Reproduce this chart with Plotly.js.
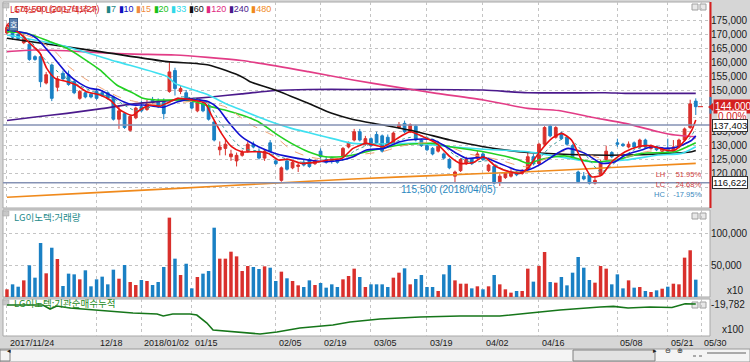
<!DOCTYPE html>
<html><head><meta charset="utf-8">
<script src="https://cdn.plot.ly/plotly-3.0.1.min.js"></script>
<style>html,body{margin:0;padding:0;background:#d6d6d6;}#chart{width:750px;height:362px;}</style>
</head><body><div id="chart"></div>
<script>
// ---------- DATA ----------
const dates = ["2017-11-24","2017-11-27","2017-11-28","2017-11-29","2017-11-30","2017-12-01","2017-12-04","2017-12-05","2017-12-06","2017-12-07","2017-12-08","2017-12-11","2017-12-12","2017-12-13","2017-12-14","2017-12-15","2017-12-18","2017-12-19","2017-12-20","2017-12-21","2017-12-22","2017-12-26","2017-12-27","2017-12-28","2018-01-02","2018-01-03","2018-01-04","2018-01-05","2018-01-08","2018-01-09","2018-01-10","2018-01-11","2018-01-12","2018-01-15","2018-01-16","2018-01-17","2018-01-18","2018-01-19","2018-01-22","2018-01-23","2018-01-24","2018-01-25","2018-01-26","2018-01-29","2018-01-30","2018-01-31","2018-02-01","2018-02-02","2018-02-05","2018-02-06","2018-02-07","2018-02-08","2018-02-09","2018-02-12","2018-02-13","2018-02-14","2018-02-19","2018-02-20","2018-02-21","2018-02-22","2018-02-23","2018-02-26","2018-02-27","2018-02-28","2018-03-02","2018-03-05","2018-03-06","2018-03-07","2018-03-08","2018-03-09","2018-03-12","2018-03-13","2018-03-14","2018-03-15","2018-03-16","2018-03-19","2018-03-20","2018-03-21","2018-03-22","2018-03-23","2018-03-26","2018-03-27","2018-03-28","2018-03-29","2018-03-30","2018-04-02","2018-04-03","2018-04-04","2018-04-05","2018-04-06","2018-04-09","2018-04-10","2018-04-11","2018-04-12","2018-04-13","2018-04-16","2018-04-17","2018-04-18","2018-04-19","2018-04-20","2018-04-23","2018-04-24","2018-04-25","2018-04-26","2018-04-27","2018-04-30","2018-05-02","2018-05-03","2018-05-04","2018-05-08","2018-05-09","2018-05-10","2018-05-11","2018-05-14","2018-05-15","2018-05-16","2018-05-17","2018-05-18","2018-05-21","2018-05-23","2018-05-24","2018-05-25","2018-05-28","2018-05-29"];
const open  = [170500,173000,170000,167000,166500,162000,162000,152500,159000,151000,156000,155500,153000,147000,149000,148500,149500,149000,149000,147500,139500,141500,135500,140000,144000,143000,146500,146000,146000,149500,157000,149500,149000,146000,142500,145000,144500,138500,128500,129000,126000,124500,126500,128000,130500,128000,125500,131000,124500,117500,124500,122000,122500,124000,125000,123500,128000,125000,125500,125000,126000,129500,132000,135000,130500,132500,134000,133500,133000,131000,136500,138000,135000,137000,132000,130000,129000,128000,127000,125000,119000,121000,123500,125000,125500,127000,121000,122500,117000,118500,119000,120500,120000,121500,126000,123500,130500,137000,133000,134500,133000,130000,120500,119000,119500,116500,119500,125000,127500,131000,130500,129500,131000,129500,132000,129000,129500,128000,129000,128000,129500,132000,136500,146000];
const high  = [174000,175500,171000,170000,167000,162500,162500,156500,159500,155000,157000,157000,154000,150000,149500,149000,150500,150000,149500,148000,144500,142000,141000,144000,146000,146500,147500,147000,147000,160000,158000,151500,150000,146500,146000,146000,145000,139000,131500,132500,128500,127500,128500,131500,131500,129000,128500,132000,125000,122500,125500,124500,124000,125000,125500,125000,129000,126000,126000,125500,129500,131500,136000,136000,133500,133000,135000,134000,134000,135000,138500,139000,138000,137500,132500,130500,129500,131000,127500,125500,121000,125500,126000,125500,128000,127500,123500,123000,120000,120500,121500,121000,121500,127500,127000,131000,137000,137500,137000,135000,133500,130500,121000,120500,120000,118500,125000,130000,128000,132500,131000,131500,131500,132500,132500,130500,130000,129500,132500,132000,132500,136500,146500,147000];
const low   = [170000,168000,168000,166500,160500,160500,151000,152000,146000,149500,153500,151500,148500,146500,147000,147000,146500,147500,146500,139000,136000,136000,135000,139500,142000,142500,145000,143500,139500,149000,148000,148500,146500,143000,142000,142000,139000,131500,126500,126500,124500,122500,126000,127500,129000,125000,124500,127500,123000,117000,121000,121500,120500,122500,122000,123000,125000,123500,123500,123500,125500,129000,131500,131500,130000,129500,130500,127500,130000,130500,136000,134500,134500,131500,129500,128000,126500,127500,125000,121500,116500,120500,123000,123000,125000,124500,120500,116000,115500,118000,118500,119000,119500,121000,123000,123000,130000,133000,132500,132000,130000,125500,116500,117500,116000,116000,119000,124500,125500,129500,129500,129000,129000,129000,129000,128500,128000,127500,127500,127500,129000,131500,136000,141000];
const close = [172500,169000,168500,169000,161000,161000,153000,155500,147000,154000,154000,152000,149000,149500,147500,147500,147000,148000,147000,139500,142500,136500,140500,143500,142500,145000,145500,144000,141500,156500,150500,150500,147000,143500,145500,142500,139500,132000,129500,130500,127000,126500,127500,130500,129500,125500,128000,128000,123500,122000,121500,124000,123000,123000,122500,124500,126000,124000,124500,124000,129000,131000,135000,132000,132500,130000,131000,128000,130500,134500,137500,135000,137500,132000,130000,128500,127000,130500,125500,122000,120500,125000,125000,123500,127000,125000,123000,116500,119000,120000,120500,119500,121000,126000,123500,130500,136500,133500,136500,132500,130500,126000,117000,118000,116500,117500,124000,128000,126000,130500,130000,130500,129500,132000,129500,130000,128500,129000,128000,129500,132000,136000,145000,144000];
const volume = [12000,19800,16100,26000,49500,30200,84400,37000,77000,59400,17200,36500,35400,27600,41700,16700,27600,31800,19800,42700,28600,50000,23400,18750,26600,25000,18750,23400,46900,124000,59900,34400,52000,13500,31250,36500,40600,108300,59900,59900,70800,63500,40600,48400,46900,43750,47900,45800,25000,39600,29200,25000,18200,15600,26000,18750,21900,14600,19800,15600,27600,32800,44300,31250,15600,19800,19800,19800,15600,30200,38000,44800,19800,28100,34400,15600,15600,9400,35400,50000,26000,20800,20800,13500,16700,12000,16700,34400,19800,12000,6800,9400,9400,44300,24000,48400,70300,23400,22400,31250,18200,38000,62500,45800,26600,22400,48400,44300,19800,35400,13500,26000,14600,15600,9400,7800,10400,13000,16100,20800,19800,61500,73000,27100];

// x-axis tick positions (trading-day index) and labels
const tickIdx  = [0,16,24,33,48,56,65,75,85,95,109,118,124];
const tickText = ["2017/11/24","12/18","2018/01/02","01/15","02/05","02/19","03/05","03/19","04/02","04/16","05/08","05/21","05/30"];
const priceTicks = [115000,120000,125000,130000,135000,140000,145000,150000,155000,160000,165000,170000,175000];
const priceTickText = ["","120,000","125,000","130,000","135,000","","","150,000","155,000","160,000","165,000","170,000","175,000"];
const volTicks = [50000,100000];
const instTicks = [-19782];
const instTickText = ["-19,782"];

// moving averages (index, price)
const ma5X  = [0,2.3,4.1,5.9,7.1,8.6,10.7,12.4,14.2,16.6,18.4,20.2,22,22.6,23.75,25.5,27.3,29.1,30.5,33,35.4,36.5,38.3,40.1,41.9,44.9,46.7,48.5,50.2,52.6,55,57.4,59.8,61.8,64.2,67.2,70.2,72,74.3,76.7,79.1,80.9,83.3,85.1,87.4,89.8,91.6,93,94.9,97.3,99.05,100.8,102.6,104.4,106.2,108,110.4,112.7,115.1,117.5,119.3,121.1,122.3,123];
const ma5Y  = [173400,170400,166800,163200,157800,154200,153000,151800,149400,148200,146400,142800,141000,141000,142800,144600,144200,145800,147000,146400,145200,141000,134400,129600,127800,127800,127200,124800,125100,123600,124000,124800,125400,129000,130800,129600,133200,135000,133200,130800,126000,123600,123900,126000,122400,120600,120000,121800,127200,132600,134400,132000,124800,118800,119400,124200,127800,129600,129900,128400,128400,132000,135600,139200];
const ma7X  = [0,4,7,10,13,16,19,21,23,25,27,29,31,34,36,38,40,42,45,48,51,54,57,60,62,65,68,71,74,77,80,83,86,89,92,94,97,100,103,106,109,112,115,118,121,123];
const ma7Y  = [172500,168000,160500,155000,151500,149000,147000,144500,142500,143500,144500,145500,147500,146800,145000,138500,133000,129000,128000,126500,124500,123800,124300,124800,128000,130500,130500,132500,133500,131500,126500,124000,124500,121000,120300,123000,129500,133000,127500,120500,124500,128500,129800,128800,130500,136000];
const ma10X = [0,3.5,5.3,7.7,10.7,13,14.8,16.6,18.4,20.8,22.6,24.3,26.1,27.9,30.5,33,36,37.7,39.5,41.9,44.9,47.9,49.6,53.8,56.8,59.8,61.8,64.2,67.2,70.2,73.2,76.1,77.9,80.3,82.1,85.1,88,91,93,95.5,98.5,100.2,103.2,106.2,108.6,110.4,113.3,115.1,117.5,119.9,122.3,123];
const ma10Y = [171600,170400,168600,163200,156000,152400,150600,150000,148200,145800,144600,144600,144200,143800,145800,146600,145800,143400,138600,133200,129600,127200,126300,124800,124200,124800,126000,128400,129000,131400,132300,132000,130200,127200,125400,125800,123600,121200,121200,123500,127500,129000,127200,123600,124200,126600,128400,129600,129000,129600,132000,133500];
const ma15X = [0,5,8.3,11,14,17,20,23,26,29,31,34,38.9,43.7,47.9,50.8,53.8,56.8,61.8,64,67,70,73,76,79,82,85,88,91,93,96,99,102,105,108,111,114,117,120,123];
const ma15Y = [172000,168500,164400,158500,154000,150500,147500,145800,145000,145000,145500,146000,144000,137400,133200,128400,126000,125100,126000,127000,127800,129600,130800,131000,129600,127200,126000,124800,123000,122400,125100,127800,128400,126000,124800,126000,127800,128400,129600,132600];
const ma20X = [0,3.5,7.7,10.7,13.6,16.6,19.6,22.6,24.3,26.7,30.5,33.6,36,38.9,41.9,44.9,47.9,50.8,53.8,56.8,59.8,61.8,64.2,70.2,76.1,79.1,85.1,91,93,95.5,99.6,104.4,108.6,113.3,119.3,123];
const ma20Y = [171000,170400,167400,165000,161400,157200,151800,148800,147000,146400,146400,145800,144200,142800,141000,138600,134400,130800,127800,126000,126000,126600,127800,130200,130800,129600,127800,125100,123600,125100,126300,124200,124800,127200,127800,131000];
const ma33X = [0,9.5,19.6,28.6,30,36,38.9,41.9,45.5,47.9,50.8,53.8,56.8,61.8,67.2,73.2,79.1,85.1,93,98.5,104.4,110.4,116.3,120.5,123];
const ma33Y = [169800,166200,160200,154800,152400,148200,145200,142800,139800,138000,136200,134700,133200,130800,130600,130800,129600,128700,127800,126000,124200,124800,126600,127200,129600];
const ma60X = [0,16.6,28.6,36,41.9,43.4,47.9,53.8,58,61.8,67.2,73.2,79.1,85.1,93,98.5,104.4,110.4,116.3,122.3,123];
const ma60Y = [168600,163800,160200,159000,154800,153000,150000,145200,141600,139400,137400,135000,132000,129600,127500,127000,126600,126600,127000,127800,128200];
const ma120X = [0,4.7,10.7,16.6,22.6,30,41.9,53.8,61.8,69,76.7,85.1,93,98.5,104.4,110.4,116.3,119.3,123];
const ma120Y = [163800,164400,164100,163400,162900,162600,160600,156600,153600,151200,148800,146400,143400,142600,140200,138000,135000,133800,133200];
const ma240X = [0,4.7,10.7,16.6,22.6,30,36,41.9,47.9,53.8,61.8,73.2,85.1,93,106.8,110.4,123];
const ma240Y = [139000,140200,141600,143200,145000,146400,147400,148600,149800,150200,150200,150200,150000,149000,149000,148800,148800];
const ma480X = [0,15,30.5,46,61.8,77,93,108,123];
const ma480Y = [111400,113000,114600,116300,118000,119300,120600,122100,123600];

// institutional cumulative net buying (x100)
const instX = [0,4.6,6.4,7.7,8.9,11.25,16.1,19.7,22.5,26.8,27.9,29.6,32.7,33.9,35.7,36.8,40.4,43.4,45.2,48.2,52.3,58.2,61.25,66.6,73.75,80.9,88,93.4,98.75,105.9,108.3,110.9,114.8,118.75,120.2,121.1,123];
const instY = [-20182,-20182,-20182,-21782,-20582,-21382,-22182,-22982,-23382,-23782,-24582,-23782,-23782,-24182,-27382,-30182,-30982,-31382,-31782,-30982,-29382,-28182,-26982,-25782,-24982,-24582,-24582,-23382,-22182,-20982,-20742,-21382,-20982,-21182,-20382,-19702,-19782];

const lastPrice = 144000;
const refLines = [137403, 116622];
const lowMark = {i: 88, p: 115500, text: "115,500 (2018/04/05)"};
const highMark = {i: 1, p: 175500, text: "175,500 (2017/11/27)"};
const stats = ["LH :   51.95%", "LC :   24.68%", "HC :  -17.95%"];

// ---------- HELPERS (layout only) ----------
const W = 750, H = 362;
const px = x => x / W, py = y => 1 - y / H;
const idx = dates.map((d, i) => i);
const UP = '#d9302c', DN = '#1a80c4';
const NUM = 'Liberation Sans, Arial, sans-serif';
const KR = 'Noto Sans CJK KR, sans-serif';

const traces = [];
traces.push({type:'candlestick', x: idx, open, high, low, close, xaxis:'x', yaxis:'y',
  increasing:{line:{color:UP,width:1}, fillcolor:UP},
  decreasing:{line:{color:DN,width:1}, fillcolor:DN},
  whiskerwidth:0, hoverinfo:'skip', showlegend:false});
function ma(x, y, color, width, dash) {
  traces.push({type:'scatter', mode:'lines', x, y, xaxis:'x', yaxis:'y',
    line:{color, width, dash: dash || 'solid', shape:'spline', smoothing:0.6}, hoverinfo:'skip', showlegend:false});
}
ma(ma480X, ma480Y, '#f08a1c', 1.6);
ma(ma240X, ma240Y, '#4b1a8c', 1.6);
ma(ma120X, ma120Y, '#e23c86', 1.6);
ma(ma60X, ma60Y, '#111111', 1.6);
ma(ma33X, ma33Y, '#3fe0f0', 1.6);
ma(ma20X, ma20Y, '#22d022', 1.6);
ma(ma15X, ma15Y, '#f0a070', 1, 'dash');
ma(ma7X, ma7Y, '#3a9a9a', 1, 'dot');
ma(ma10X, ma10Y, '#1010d0', 1.6);
ma(ma5X, ma5Y, '#e81010', 1.6);

traces.push({type:'bar', x: idx, y: volume, xaxis:'x2', yaxis:'y2',
  marker:{color: idx.map(i => close[i] >= open[i] ? UP : DN), line:{width:0}},
  hoverinfo:'skip', showlegend:false});
traces.push({type:'scatter', mode:'lines', x: instX, y: instY, xaxis:'x3', yaxis:'y3',
  line:{color:'#16761a', width:1.6}, hoverinfo:'skip', showlegend:false});

const xBase = {domain:[px(3), px(710)], range:[-0.71, 125.54], tickvals: tickIdx, showticklabels:false,
  showgrid:true, gridcolor:'#c4c4c4', griddash:'dot', gridwidth:1, zeroline:false, showline:false, ticks:''};
const yBase = {side:'right', showgrid:true, gridcolor:'#c4c4c4', griddash:'dot', zeroline:false, showline:false,
  ticks:'', tickfont:{family:NUM, size:10, color:'#1a1a1a'}};

const ann = [];
// header legend (the high-price note overlaps the title, as in the source)
ann.push({xref:'paper', yref:'paper', x:px(8), y:py(9), xanchor:'left', yanchor:'middle', showarrow:false,
  text:'LG이노텍 LG이노텍:주가', font:{family:KR, size:8.5, color:'#d42020'}});
ann.push({xref:'paper', yref:'paper', x:px(12), y:py(9), xanchor:'left', yanchor:'middle', showarrow:false,
  text:highMark.text, font:{family:NUM, size:9, color:'#d42020'}});
ann.push({xref:'x', yref:'y', x:highMark.i, y:highMark.p, ax:-8, ay:9, showarrow:true, arrowhead:2, arrowsize:0.6,
  arrowwidth:1.2, arrowcolor:'#d42020', text:''});
const legendItems = [['7','#1f8585'],['10','#1010c0'],['15','#f08a40'],['20','#18c018'],['33','#30d8e8'],
  ['60','#111111'],['120','#e02a80'],['240','#4b1a8c'],['480','#f08a1c']];
ann.push({xref:'paper', yref:'paper', x:px(104), y:py(9), xanchor:'left', yanchor:'middle', showarrow:false,
  text: legendItems.map(([n,c]) => `<span style="color:${c}">▮${n}</span>`).join(' '),
  font:{family:NUM, size:9}});
// "호" button
ann.push({xref:'paper', yref:'paper', x:px(8.5), y:py(18), showarrow:false, text:'호',
  font:{family:KR, size:8, color:'#ffffff'}, bgcolor:'#5b7fae', bordercolor:'#3d5f8c', borderwidth:1, borderpad:0});
// pane titles
ann.push({xref:'paper', yref:'paper', x:px(12), y:py(217), xanchor:'left', yanchor:'middle', showarrow:false,
  text:'LG이노텍:거래량', font:{family:KR, size:9.5, color:'#1d8a8a'}});
ann.push({xref:'paper', yref:'paper', x:px(12), y:py(303), xanchor:'left', yanchor:'middle', showarrow:false,
  text:'LG이노텍:기관순매수누적', font:{family:KR, size:9.5, color:'#248a24'}});
// unit labels
ann.push({xref:'paper', yref:'paper', x:px(746), y:py(290), xanchor:'right', yanchor:'middle', showarrow:false,
  text:'x10', font:{family:NUM, size:10, color:'#1a1a1a'}});
ann.push({xref:'paper', yref:'paper', x:px(746), y:py(329), xanchor:'right', yanchor:'middle', showarrow:false,
  text:'x100', font:{family:NUM, size:10, color:'#1a1a1a'}});
// price boxes on the right
ann.push({xref:'paper', yref:'y', x:px(713), y:lastPrice, xanchor:'left', yanchor:'middle', showarrow:false,
  text:lastPrice.toLocaleString('en-US'), font:{family:NUM, size:10, color:'#ffffff'}, bgcolor:'#d42020', borderpad:1});
ann.push({xref:'paper', yref:'paper', x:px(747), y:py(116), xanchor:'right', yanchor:'middle', showarrow:false,
  text:'0.00%', font:{family:NUM, size:10, color:'#d42020'}, bgcolor:'#ffffff', borderpad:0});
refLines.forEach(v => ann.push({xref:'paper', yref:'y', x:px(712), y:v, xanchor:'left', yanchor:'middle', showarrow:false,
  text:v.toLocaleString('en-US'), font:{family:NUM, size:9.5, color:'#111111'}, bgcolor:'#ffffff',
  bordercolor:'#303030', borderwidth:1, borderpad:0}));
// low marker
ann.push({xref:'x', yref:'y', x:lowMark.i - 0.3, y:lowMark.p, ax:-50, ay:4, showarrow:true, arrowhead:0,
  arrowwidth:1, arrowcolor:'#2a88c0', text:lowMark.text, font:{family:NUM, size:10, color:'#2a88c0'}, standoff:1});
// stats (one block, three coloured lines)
const statColors = ['#d04040', '#d04040', '#3a8ac0'];
ann.push({xref:'paper', yref:'paper', x:px(702), y:py(184), xanchor:'right', yanchor:'middle', align:'right',
  showarrow:false, borderpad:0,
  text: stats.map((s, k) => `<span style="color:${statColors[k]}">${s}</span>`).join('<br>'),
  font:{family:NUM, size:7.5}});
// date labels
tickIdx.forEach((t, k) => ann.push({xref:'x3', yref:'paper', x:t, y:py(342.5), xanchor:'left', yanchor:'middle',
  xshift:1, showarrow:false, text:tickText[k], font:{family:NUM, size:9, color:'#1a1a1a'}}));
// scrollbar glyphs
[['◂',5],['▸',659],['⊖',673],['⊕',685]].forEach(([t,x]) => ann.push({xref:'paper', yref:'paper', x:px(x), y:py(356.5),
  showarrow:false, text:t, font:{family:'DejaVu Sans', size:7, color:'#202020'}}));

const shapes = [];
const rect = (x0,y0,x1,y1,fill,line,lw) => shapes.push({type:'rect', xref:'paper', yref:'paper', x0:px(x0), x1:px(x1),
  y0:py(y1), y1:py(y0), fillcolor:fill, line:{color:line, width:lw===undefined?1:lw}, layer:'below'});
rect(3,2,710,208,'#ffffff','#a8a8a8',1);
rect(3,210,710,297,'#ffffff','#a8a8a8',1);
rect(3,299,710,336,'#ffffff','#a8a8a8',1);
// scrollbar
rect(0,349,750,362,'#f4f4f4','#9a9a9a',1);
rect(573,350,655,361,'#e2e2e2','#808080',1);
rect(0,350,10,361,'#f4f4f4','#808080',1);
shapes.push({type:'line', xref:'paper', yref:'paper', x0:px(707), x1:px(746), y0:py(353), y1:py(353), line:{color:'#606060', width:1}});
shapes.push({type:'line', xref:'paper', yref:'paper', x0:px(693), x1:px(703), y0:py(356), y1:py(356), line:{color:'#606060', width:1, dash:'dot'}});
// reference horizontal lines
refLines.forEach(v => shapes.push({type:'line', xref:'paper', yref:'y', x0:px(3), x1:px(710), y0:v, y1:v,
  line:{color:'#8592b4', width:1.6}}));
// right border markers
shapes.push({type:'line', xref:'paper', yref:'paper', x0:px(710.5), x1:px(710.5), y0:py(208), y1:py(2), line:{color:'#d42020', width:2}});
shapes.push({type:'line', xref:'paper', yref:'y', x0:px(710.5), x1:px(710.5), y0:lastPrice - 2500, y1:lastPrice + 3500, line:{color:'#2a88c0', width:2}});
shapes.push({type:'path', xref:'paper', yref:'paper', path:`M ${px(708)} ${py(107)} L ${px(713)} ${py(103)} L ${px(713)} ${py(111)} Z`,
  fillcolor:'#d42020', line:{width:0}});
// current price tick
shapes.push({type:'line', xref:'paper', yref:'y', x0:px(698), x1:px(703), y0:lastPrice, y1:lastPrice, line:{color:'#d42020', width:1}});
// pane corner icons
[2,211,300].forEach(y => { rect(692,y+2,698,y+8,'#e8e8e8','#a0a0a0',1); rect(700,y+2,706,y+8,'#e8e8e8','#a0a0a0',1); });
rect(3,211,9,216,'#c8c8c8','#a0a0a0',0.5);
rect(3,300,9,305,'#c8c8c8','#a0a0a0',0.5);
rect(3,3,9,8,'#c8c8c8','#a0a0a0',0.5);

const layout = {
  width: W, height: H, margin:{l:0, r:0, t:0, b:0, pad:0},
  paper_bgcolor:'#d6d6d6', plot_bgcolor:'rgba(0,0,0,0)',
  showlegend:false, bargap:0.38, hovermode:false,
  xaxis: Object.assign({}, xBase, {anchor:'y', rangeslider:{visible:false}}),
  xaxis2: Object.assign({}, xBase, {anchor:'y2', matches:'x'}),
  xaxis3: Object.assign({}, xBase, {anchor:'y3', matches:'x'}),
  yaxis: Object.assign({}, yBase, {domain:[py(208), py(2)], range:[107555, 181654], tickvals: priceTicks, ticktext: priceTickText, anchor:'x'}),
  yaxis2: Object.assign({}, yBase, {domain:[py(297), py(210)], range:[0, 135938], tickvals: volTicks, tickformat:',d', anchor:'x2'}),
  yaxis3: Object.assign({}, yBase, {domain:[py(336), py(299)], range:[-32582, -17782], tickvals: instTicks, ticktext: instTickText, showgrid:false, anchor:'x3'}),
  annotations: ann, shapes: shapes
};
Plotly.newPlot('chart', traces, layout, {staticPlot:true, displayModeBar:false});
</script></body></html>
